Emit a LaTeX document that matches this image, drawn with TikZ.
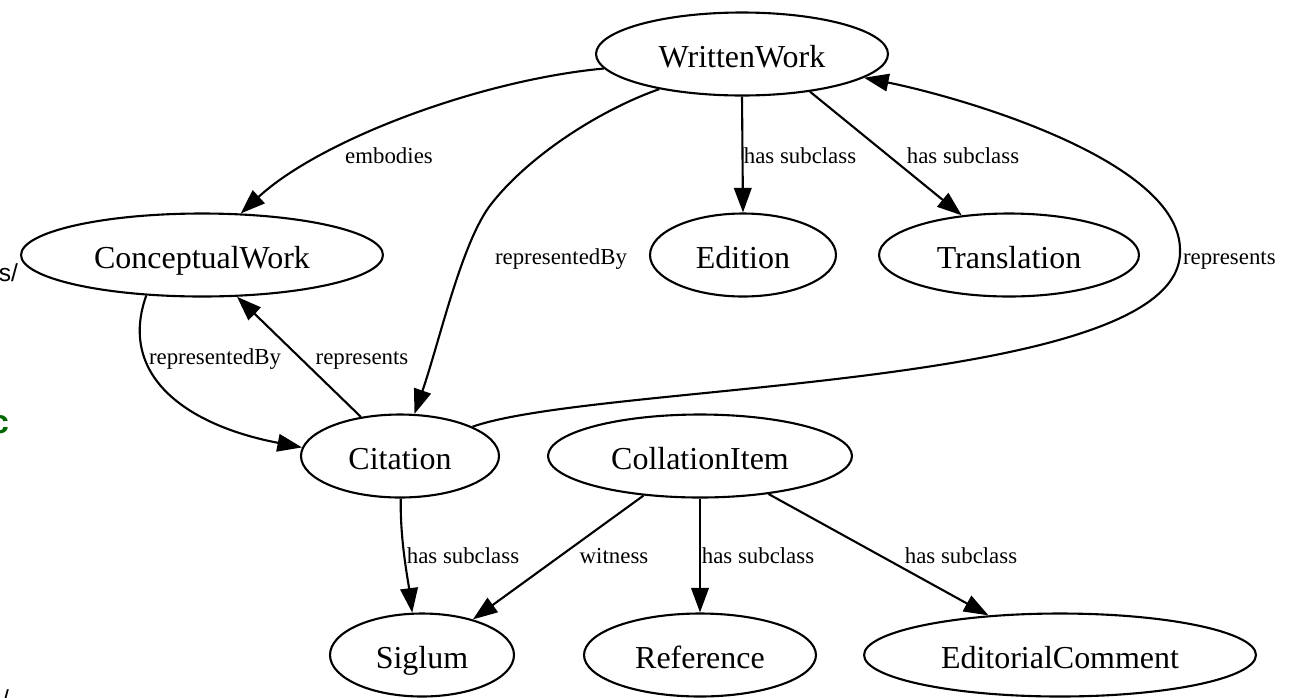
\documentclass[tikz,border=0pt]{standalone}
\usepackage{fontspec}
\setmainfont{Liberation Serif}
\newfontfamily\fragfont{Liberation Sans}
\usetikzlibrary{shapes.geometric,arrows.meta}

\begin{document}
\begin{tikzpicture}
  [x=0.02cm,y=-0.02cm,line width=1.2pt,
   cls/.style={ellipse,draw,inner sep=0pt,minimum height=1.66cm,text height=16pt,text depth=1.2pt,font=\fontsize{18.2}{22}\selectfont},
   lbl/.style={inner sep=0pt,text height=9pt,text depth=1.3pt,font=\fontsize{13}{15}\selectfont},
   frag/.style={inner sep=0pt,font=\fragfont\fontsize{14}{16}\selectfont},
   edge/.style={-{Triangle[length=14pt,width=10pt]}}]
  \useasboundingbox (0,0) rectangle (1294,697);
  \clip (0,0) rectangle (1294,697);
  % cut-off bits at the left border
  \node[frag,anchor=base east] (fs) at (19,281) {s/};
  \node[frag,anchor=base east,text=green!40!black,font=\fragfont\bfseries\fontsize{19}{21}\selectfont] (fc) at (10,433) {c};
  \node[frag,anchor=north west] (fsl) at (1,689) {/};
  % classes
  \node[cls,minimum width=5.84cm] (ww) at (742,54) {WrittenWork};
  \node[cls,minimum width=7.24cm] (cw) at (202,255) {ConceptualWork};
  \node[cls,minimum width=3.72cm] (ed) at (743,255) {Edition};
  \node[cls,minimum width=5.2cm] (tr) at (1009,255) {Translation};
  \node[cls,minimum width=3.96cm] (cit) at (400,456) {Citation};
  \node[cls,minimum width=6.08cm] (col) at (700,456) {CollationItem};
  \node[cls,minimum width=3.68cm] (sig) at (422,655) {Siglum};
  \node[cls,minimum width=4.64cm] (ref) at (700,655) {Reference};
  \node[cls,minimum width=7.84cm] (ec) at (1060,655) {EditorialComment};
  % straight edges
  \foreach \from/\to in {ww.270/ed.90,ww.331/tr.140,cit.135/cw.310,col.215/sig.35,col.270/ref.90,col.331/ec.151}
    \draw[edge] (\from) -- (\to);
  % curved edges
  \draw[edge] (ww.186) .. controls (480,80) and (320,140) .. (cw.47);
  \draw[edge] (ww.203) .. controls (600,110) and (530,155) .. (492,203)
    .. controls (462,240) and (440,340) .. (cit.71);
  \draw[edge] (cit.22) .. controls (600,382) and (1185,390) .. (1180,250)
    .. controls (1180,160) and (960,97) .. (ww.349);
  \draw[edge] (cw.216.5) .. controls (118,375) and (185,425) .. (cit.175);
  \draw[edge] (cit.271) .. controls (400,540) and (408,580) .. (sig.103);
  % edge labels
  \node[lbl] (lemb) at (389,157) {embodies};
  \node[lbl] (lrb1) at (561,258) {representedBy};
  \node[lbl] (lsub1) at (800,157) {has subclass};
  \node[lbl] (lsub2) at (963,157) {has subclass};
  \node[lbl,anchor=west] (lrep1) at (1182,258) {represents};
  \node[lbl] (lrb2) at (215,358) {representedBy};
  \node[lbl] (lrep2) at (362,358) {represents};
  \node[lbl] (lsub3) at (463,557) {has subclass};
  \node[lbl] (lwit) at (614,557) {witness};
  \node[lbl] (lsub4) at (758,557) {has subclass};
  \node[lbl] (lsub5) at (961,557) {has subclass};
\end{tikzpicture}
\end{document}
